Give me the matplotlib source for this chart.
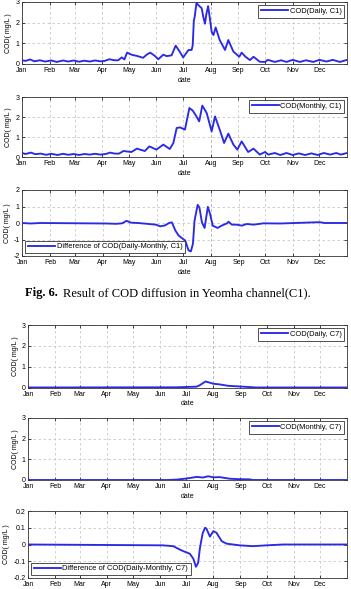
import matplotlib
matplotlib.use("Agg")
import matplotlib.pyplot as plt

plt.rcParams["font.family"] = ["Liberation Sans", "DejaVu Sans"]

MONTHS = ["Jan", "Feb", "Mar", "Apr", "May", "Jun",
          "Jul", "Aug", "Sep", "Oct", "Nov", "Dec"]
MONTH_START = [0, 31, 59, 90, 120, 151, 181, 212, 243, 273, 304, 334]

# C1, daily input (day of year, COD mg/L)
c1_daily_day = [0, 4, 9, 14, 20, 26, 33, 39, 46, 52, 58, 64, 70, 76, 82, 88, 93,
                98, 104, 108, 112, 115, 118, 123, 130, 136, 140, 144, 149, 153,
                158.7, 162.5, 168, 172.6, 177, 181, 187, 190.5, 191.7, 193, 194,
                196, 198, 200, 201.8, 203.5, 205.5, 207, 209, 211, 213, 215,
                217.5, 222, 228, 231.7, 237.4, 244, 246.7, 251, 256, 260, 267,
                273, 276, 284, 291, 297, 304, 312, 319, 327, 334, 342, 349, 357, 365]
c1_daily_cod = [0.18, 0.15, 0.22, 0.13, 0.18, 0.12, 0.17, 0.10, 0.17, 0.12, 0.17,
                0.11, 0.16, 0.12, 0.17, 0.13, 0.15, 0.23, 0.18, 0.18, 0.32, 0.22,
                0.55, 0.45, 0.38, 0.30, 0.45, 0.55, 0.40, 0.23, 0.45, 0.38, 0.42,
                0.89, 0.60, 0.32, 0.68, 0.68, 0.90, 2.10, 2.30, 2.97, 2.85, 2.77,
                2.70, 2.30, 1.95, 2.40, 2.80, 2.20, 1.56, 1.40, 1.77, 1.16, 0.68,
                1.16, 0.60, 0.35, 0.55, 0.35, 0.19, 0.35, 0.11, 0.10, 0.20, 0.10,
                0.18, 0.10, 0.20, 0.10, 0.18, 0.10, 0.20, 0.12, 0.20, 0.10, 0.20]

# C1, monthly input
c1_month_day = [0, 4, 10, 15, 21, 27, 33, 40, 46, 52, 58, 64, 70, 76, 82, 88, 94,
                99, 104, 109, 114, 119, 123, 129, 134, 138, 143, 151, 158.7, 166,
                170, 173.7, 177.5, 183, 188, 191.7, 195, 199, 202.5, 207.4, 213,
                216.8, 222, 227, 231.7, 237.4, 241.8, 246.7, 254, 260, 267, 273,
                276.6, 284, 290, 297, 304, 311, 318, 325, 332, 339, 346, 353, 358, 365]
c1_month_cod = [0.20, 0.15, 0.22, 0.14, 0.17, 0.11, 0.16, 0.10, 0.16, 0.11, 0.15,
                0.10, 0.15, 0.12, 0.16, 0.12, 0.15, 0.22, 0.17, 0.17, 0.30, 0.27,
                0.25, 0.42, 0.35, 0.30, 0.53, 0.37, 0.62, 0.40, 0.70, 1.45, 1.48,
                1.37, 2.45, 2.32, 2.10, 1.78, 2.57, 2.20, 1.28, 2.03, 1.37, 0.70,
                1.17, 0.62, 0.37, 0.78, 0.25, 0.42, 0.12, 0.25, 0.12, 0.20, 0.10,
                0.20, 0.10, 0.18, 0.10, 0.18, 0.10, 0.20, 0.12, 0.20, 0.12, 0.20]

# C1, difference daily - monthly
c1_diff_day = [0, 9, 20, 95, 105, 112, 117, 122, 130, 140, 150, 155, 160, 165,
               168, 172, 175.6, 180.4, 183, 186.8, 189.4, 191.7, 193.5, 197, 199,
               201.8, 204.8, 208.5, 211, 214, 219.4, 224, 230, 231.7, 235.5, 241,
               246.7, 252, 260, 271, 290, 334, 340, 365]
c1_diff_cod = [0.0, -0.03, 0.0, -0.03, -0.05, -0.02, 0.13, 0.02, 0.0, -0.05, -0.10,
               -0.20, -0.15, 0.0, 0.04, -0.46, -0.76, -0.96, -1.06, -1.66, -1.72,
               -1.26, 0.14, 1.10, 0.94, 0.04, -0.30, 0.98, 0.54, -0.16, -0.30, -0.16,
               -0.02, 0.08, -0.10, -0.10, -0.16, -0.06, -0.10, -0.02, -0.03, 0.05,
               0.0, 0.0]

# C7, daily input
c7_daily_day = [0, 170, 192.6, 196, 203, 212, 219, 229, 242, 254, 261, 365]
c7_daily_cod = [0.0, 0.01, 0.04, 0.10, 0.29, 0.18, 0.15, 0.08, 0.05, 0.02, 0.0, 0.0]

# C7, monthly input
c7_month_day = [0, 160, 170, 181, 193, 200, 206, 212, 219, 231, 242, 254, 257, 365]
c7_month_cod = [0.0, 0.0, 0.02, 0.07, 0.15, 0.12, 0.18, 0.13, 0.14, 0.06, 0.04,
                0.03, 0.0, 0.0]

# C7, difference daily - monthly
c7_diff_day = [0, 154, 166, 173.5, 177.6, 185, 189, 192, 194.5, 196.6, 199.7, 202.4,
               204, 208, 212, 215.5, 221.5, 227, 242, 257, 273, 292, 365]
c7_diff_cod = [0.0, -0.005, -0.01, -0.03, -0.04, -0.055, -0.085, -0.133, -0.11,
               -0.02, 0.067, 0.10, 0.095, 0.047, 0.08, 0.07, 0.02, 0.005, -0.005,
               -0.01, -0.005, 0.0, 0.0]

FIG_W, FIG_H = 351, 589
LINE_BLUE = "#2a2ae6"


def px_axes(fig, left, top, right, bottom):
    return fig.add_axes([left / FIG_W, 1 - bottom / FIG_H,
                         (right - left) / FIG_W, (bottom - top) / FIG_H])


def style_panel(ax, ylim, yticks, yticklabels, loc, show_xlabel=True):
    ax.set_xlim(0, 365)
    ax.set_ylim(*ylim)
    ax.set_xticks(MONTH_START)
    ax.set_xticklabels(MONTHS)
    ax.set_yticks(yticks)
    ax.set_yticklabels(yticklabels)
    ax.tick_params(direction="in", length=2, width=0.5, labelsize=5,
                   top=True, right=True)
    ax.tick_params(axis="x", pad=2.2)
    ax.tick_params(axis="y", pad=2.0)
    ax.grid(True, linestyle=(0, (3, 3)), color="#c8c8c8", linewidth=0.6)
    ax.axvline(212, linestyle=(0, (3, 3)), color="#6a6a6a", linewidth=0.6, zorder=1)
    for sp in ax.spines.values():
        sp.set_linewidth(0.6)
        sp.set_color("#333333")
    ax.set_ylabel("COD( mg/L )", fontsize=5, labelpad=2)
    if show_xlabel:
        ax.set_xlabel("date", fontsize=5, labelpad=2)
    leg = ax.legend(loc=loc, fontsize=5.4, handlelength=3.6, handletextpad=0.2,
                    borderpad=0.35, fancybox=False, framealpha=1,
                    borderaxespad=0.4)
    leg.get_frame().set_edgecolor("#333333")
    leg.get_frame().set_linewidth(0.6)


fig = plt.figure(figsize=(FIG_W / 100, FIG_H / 100), dpi=100)

panels = [
    ((22, 2, 347, 64), c1_daily_day, c1_daily_cod, "COD(Daily, C1)", "upper right",
     (0, 3), [0, 1, 2, 3], ["0", "1", "2", "3"], True),
    ((22, 97, 347, 157), c1_month_day, c1_month_cod, "COD(Monthly, C1)", "upper right",
     (0, 3), [0, 1, 2, 3], ["0", "1", "2", "3"], True),
    ((22.5, 190, 347, 256), c1_diff_day, c1_diff_cod,
     "Difference of COD(Daily-Monthly, C1)", "lower left",
     (-2, 2), [-2, -1, 0, 1, 2], ["-2", "-1", "0", "1", "2"], True),
    ((28.3, 325, 347, 387.5), c7_daily_day, c7_daily_cod, "COD(Daily, C7)", "upper right",
     (0, 3), [0, 1, 2, 3], ["0", "1", "2", "3"], True),
    ((28.3, 418, 347, 480), c7_month_day, c7_month_cod, "COD(Monthly, C7)", "upper right",
     (0, 3), [0, 1, 2, 3], ["0", "1", "2", "3"], True),
    ((28.3, 511, 347, 578), c7_diff_day, c7_diff_cod,
     "Difference of COD(Daily-Monthly, C7)", "lower left",
     (-0.2, 0.2), [-0.2, -0.1, 0, 0.1, 0.2], ["-0.2", "-0.1", "0", "0.1", "0.2"], False),
]

for box, xs, ys, label, loc, ylim, yt, ytl, show_x in panels:
    ax = px_axes(fig, *box)
    ax.plot(xs, ys, color=LINE_BLUE, linewidth=1.35, label=label, zorder=3)
    style_panel(ax, ylim, yt, ytl, loc, show_xlabel=show_x)

# caption between the two groups
fig.text(25 / FIG_W, 1 - 293 / FIG_H, "Fig. 6.", fontsize=9, fontweight="bold",
         family="Liberation Serif", ha="left", va="center")
fig.text(63 / FIG_W, 1 - 293 / FIG_H, "Result of COD diffusion in Yeomha channel(C1).",
         fontsize=9, family="Liberation Serif", ha="left", va="center")

fig.savefig("out.png", dpi=100)
